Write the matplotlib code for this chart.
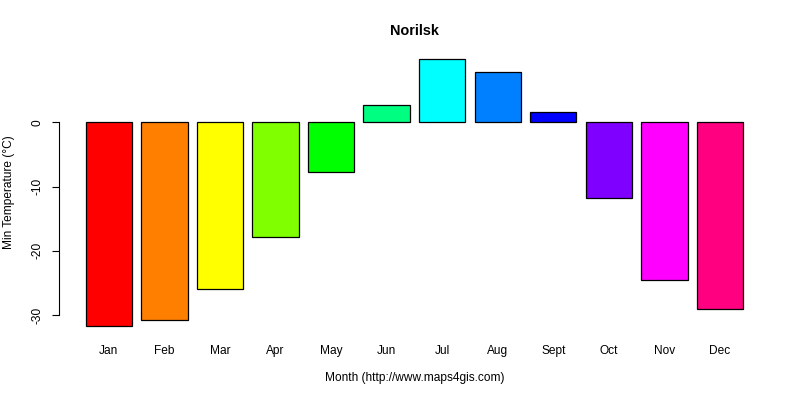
import matplotlib
matplotlib.use("Agg")
import matplotlib.pyplot as plt
import numpy as np

months = ["Jan", "Feb", "Mar", "Apr", "May", "Jun", "Jul", "Aug", "Sept", "Oct", "Nov", "Dec"]
min_temp = [-31.7, -30.8, -26.0, -17.9, -7.8, 2.7, 9.8, 7.8, 1.6, -11.7, -24.6, -29.1]
colors = ["#FF0000", "#FF8000", "#FFFF00", "#80FF00", "#00FF00", "#00FF80",
          "#00FFFF", "#0080FF", "#0000FF", "#8000FF", "#FF00FF", "#FF0080"]
yticks = [0, -10, -20, -30]

plt.rcParams['font.family'] = ['Liberation Sans', 'DejaVu Sans']

W, H = 800, 400
fig = plt.figure(figsize=(8, 4), dpi=100)
# plot region in pixels
left_px, right_px = 59.4, 769.4
top_px, bot_px = 48.6, 336.8
ax = fig.add_axes([left_px / W, 1 - bot_px / H, (right_px - left_px) / W, (bot_px - top_px) / H])

space, width = 0.2, 1.0
lefts = np.array([space + i * (width + space) for i in range(len(months))])
centers = lefts + width / 2
ax.bar(centers, min_temp, width=width, color=colors, edgecolor="black", linewidth=0.9)

xl, xr = lefts[0], lefts[-1] + width
dx = (xr - xl) * 0.04
ax.set_xlim(xl - dx, xr + dx)
ymin, ymax = min(min(min_temp), 0), max(max(min_temp), 0)
dy = (ymax - ymin) * 0.04
ax.set_ylim(ymin - dy, ymax + dy)

for s in ["top", "right", "bottom"]:
    ax.spines[s].set_visible(False)
ax.spines["left"].set_bounds(-30, 0)
ax.spines["left"].set_linewidth(0.8)

ax.set_yticks(yticks)
ax.set_yticklabels([str(v) for v in yticks], rotation=90, va="center", fontsize=8.6)
ax.tick_params(axis="y", length=5.2, width=0.8, pad=6.5)
ax.set_xticks(centers)
ax.set_xticklabels(months, fontsize=8.6)
ax.tick_params(axis="x", length=0, pad=6)

fig.text((left_px + right_px) / 2 / W, 1 - 31 / H, "Norilsk", ha="center", va="center",
         fontsize=10.4, fontweight="bold")
fig.text((left_px + right_px) / 2 / W, 1 - 378 / H, "Month (http://www.maps4gis.com)",
         ha="center", va="center", fontsize=8.6)
fig.text(9 / W, 1 - 192 / H, "Min Temperature (°C)", ha="center", va="center",
         rotation=90, fontsize=8.6)

fig.savefig("out.png", dpi=100)
